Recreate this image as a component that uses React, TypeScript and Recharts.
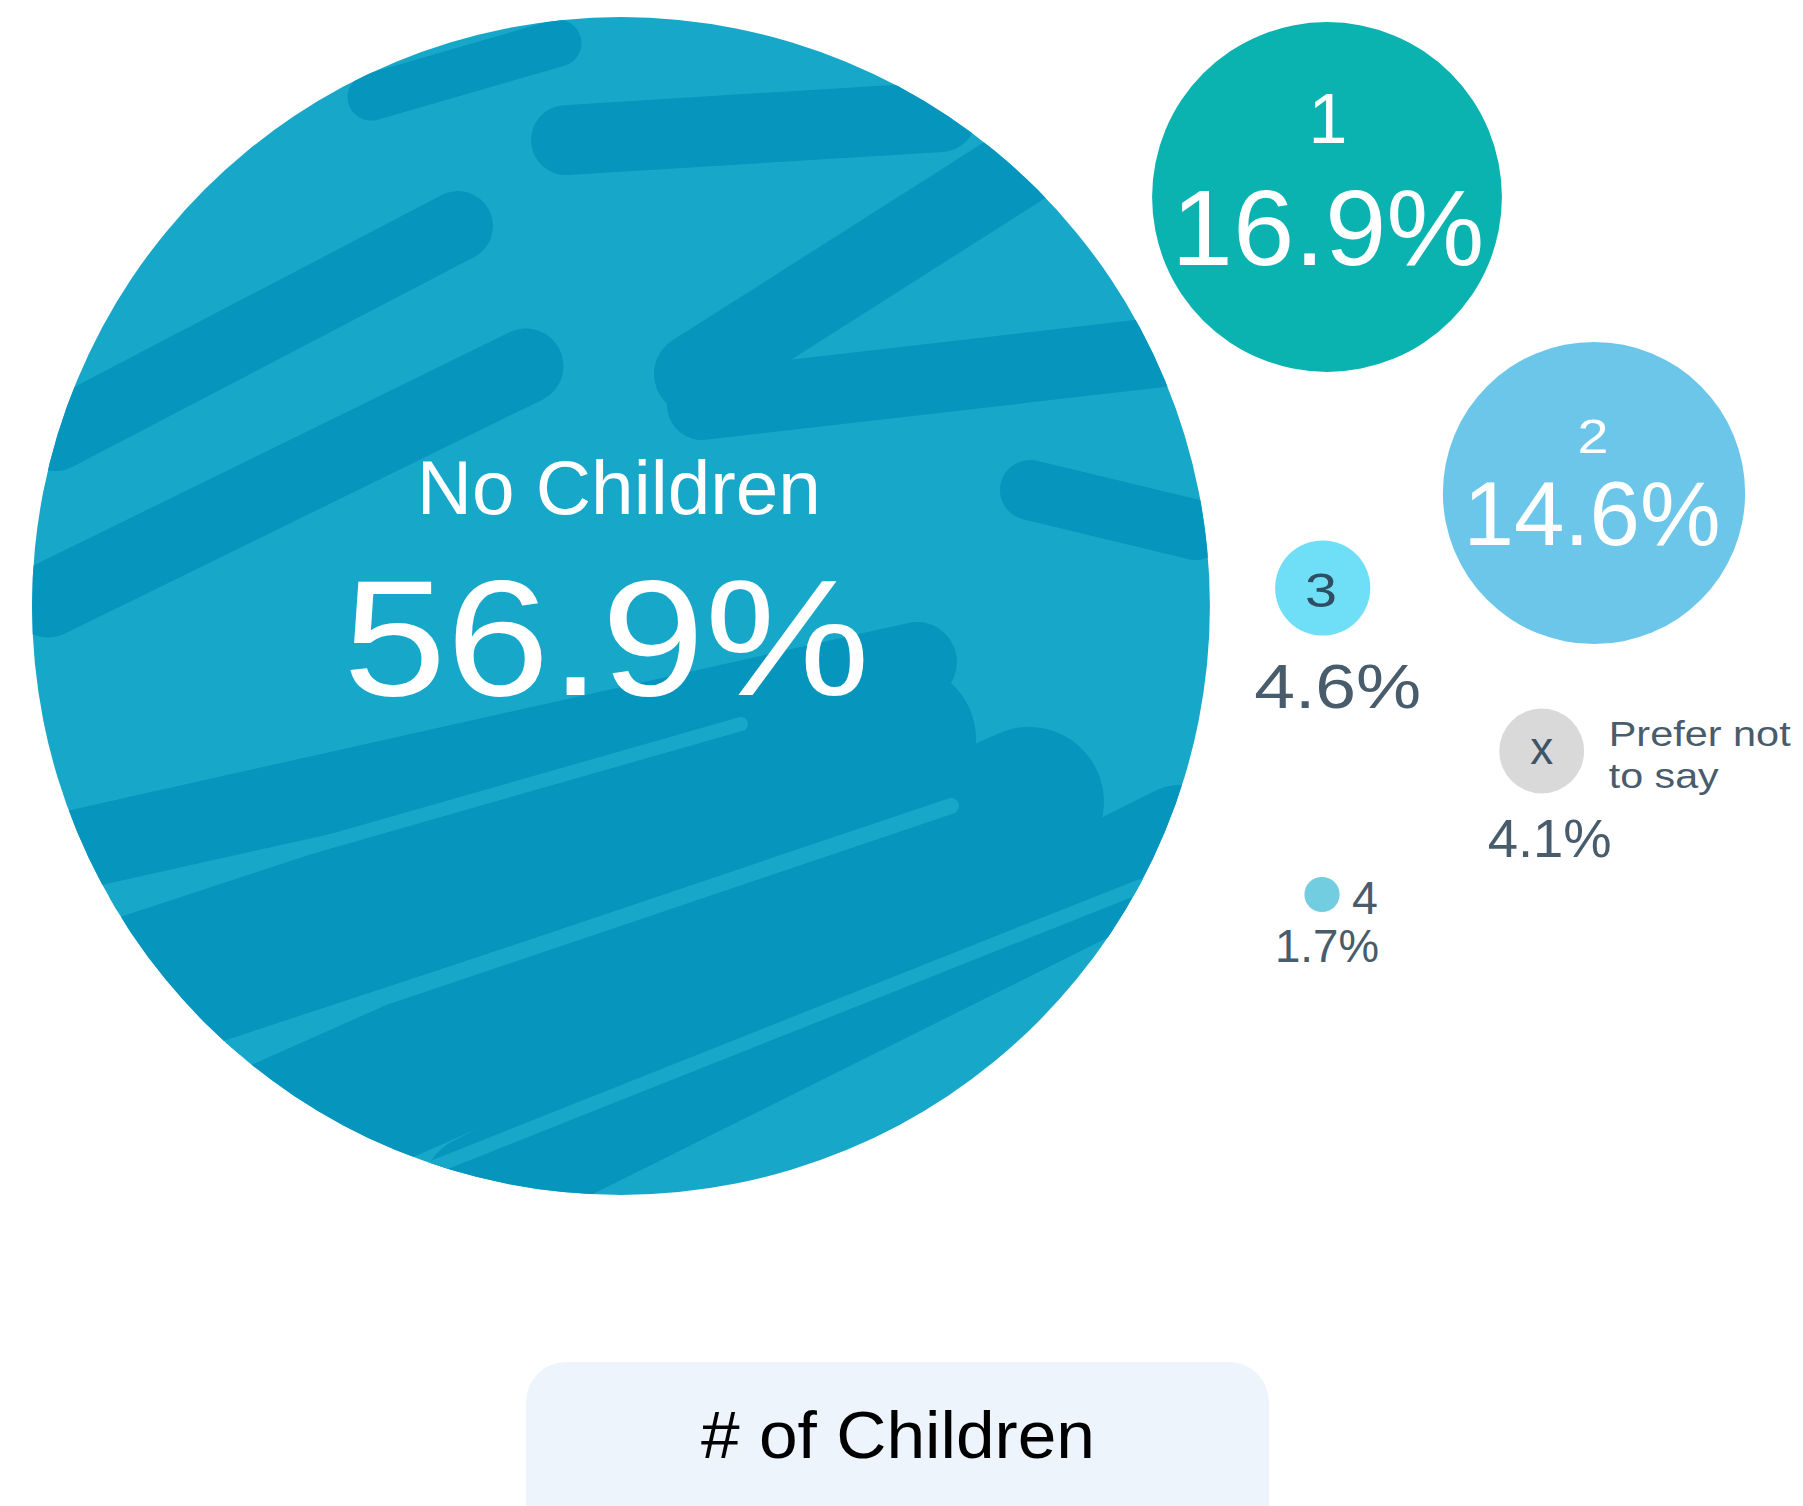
import React from 'react';
import { ScatterChart, Scatter, XAxis, YAxis, ZAxis } from 'recharts';

// ---- data ----
const categories = ['No Children', '1', '2', '3', 'Prefer not to say', '4'];
const values = [56.9, 16.9, 14.6, 4.6, 4.1, 1.7];
const badgeLabels = ['No Children', '1', '2', '3', 'x', '4'];
const axisTitle = '# of Children';

// ---- layout (bubble centres in chart pixel space) ----
const bubbleX = [621, 1327, 1594, 1322.7, 1541.7, 1322];
const bubbleY = [606, 197, 493, 588, 751, 894.5];
const bubbleFill = ['#17A8C9', '#0BB3B0', '#6BC6EA', '#6FDFF7', '#D9D9D9', '#72CDE0'];
const strokeDark = '#0595BD';
const strokeLight = '#17A8C9';

const W = 1803;
const H = 1506;
const FONT = '"Liberation Sans", Arial, Helvetica, sans-serif';
const SLATE = '#485C6C';

const data = categories.map((name, i) => ({ name, value: values[i], x: bubbleX[i], y: bubbleY[i] }));

// brush texture strokes for the large bubble, relative to centre at radius 589
// [x1, y1, x2, y2, width, light?]
const brush: [number, number, number, number, number, number][] = [
  [-250, -509, -63, -563, 47, 0],
  [-55, -466, 320, -489, 70, 0],
  [-163, -380, -565, -170, 70, 0],
  [416, -450, 73, -232, 80, 0],
  [81, -201, 559, -256, 70, 0],
  [-95, -240, -573, -6, 75, 0],
  [409, -116, 575, -76, 60, 0],
  [296, 56, -573, 250, 80, 0],
  [280, 133, -501, 390, 150, 0],
  [408, 196, -381, 546, 150, 0],
  [559, 234, -143, 584, 110, 0],
  [-580, 318, 120, 118, 14, 1],
  [-470, 470, 330, 200, 16, 1],
  [-260, 590, 520, 280, 14, 1],
];

type TSpec = { t: string; dx: number; dy: number; fs: number; fill: string; anchor: 'start' | 'middle'; len?: number };

const pct = (v: number) => `${v.toFixed(1)}%`;

function textSpecs(i: number): TSpec[] {
  const v = pct(values[i]);
  switch (i) {
    case 0:
      return [
        { t: badgeLabels[0], dx: -2.2, dy: -92, fs: 76, fill: '#FFFFFF', anchor: 'middle', len: 404 },
        { t: v, dx: -14.5, dy: 89, fs: 165, fill: '#FFFFFF', anchor: 'middle', len: 527 },
      ];
    case 1:
      return [
        { t: badgeLabels[1], dx: 1, dy: -53.7, fs: 70, fill: '#FFFFFF', anchor: 'middle' },
        { t: v, dx: 1, dy: 68, fs: 107, fill: '#FFFFFF', anchor: 'middle', len: 313 },
      ];
    case 2:
      return [
        { t: badgeLabels[2], dx: -1, dy: -40.3, fs: 48, fill: '#FFFFFF', anchor: 'middle', len: 31 },
        { t: v, dx: -2, dy: 52, fs: 91, fill: '#FFFFFF', anchor: 'middle', len: 257 },
      ];
    case 3:
      return [
        { t: badgeLabels[3], dx: -1.7, dy: 19.3, fs: 48, fill: '#2E4F63', anchor: 'middle', len: 32 },
        { t: v, dx: 15, dy: 120.3, fs: 63, fill: SLATE, anchor: 'middle', len: 167 },
      ];
    case 4: {
      const words = categories[4].split(' ');
      return [
        { t: badgeLabels[4], dx: 0, dy: 13, fs: 46, fill: '#3E5568', anchor: 'middle' },
        { t: words.slice(0, 2).join(' '), dx: 67, dy: -5.3, fs: 35, fill: SLATE, anchor: 'start', len: 182 },
        { t: words.slice(2).join(' '), dx: 67, dy: 37.3, fs: 35, fill: SLATE, anchor: 'start', len: 110 },
        { t: v, dx: 8, dy: 106.3, fs: 54.5, fill: SLATE, anchor: 'middle', len: 124 },
      ];
    }
    default:
      return [
        { t: badgeLabels[5], dx: 30, dy: 19.5, fs: 46.5, fill: SLATE, anchor: 'start' },
        { t: v, dx: 5, dy: 67, fs: 46.5, fill: SLATE, anchor: 'middle', len: 104 },
      ];
  }
}

function Bubble(props: any) {
  const { cx, cy, size, payload } = props;
  const i = categories.indexOf(payload.name);
  const r = typeof size === 'number' && isFinite(size) ? size : payload.value * 10.35;
  const k = r / 589;
  return (
    <g>
      {i === 0 ? (
        <>
          <defs>
            <clipPath id="big-bubble-clip">
              <circle cx={cx} cy={cy} r={r} />
            </clipPath>
          </defs>
          <circle cx={cx} cy={cy} r={r} fill={bubbleFill[0]} />
          <g clipPath="url(#big-bubble-clip)">
            {brush.map((b, j) => (
              <line
                key={j}
                x1={cx + b[0] * k}
                y1={cy + b[1] * k}
                x2={cx + b[2] * k}
                y2={cy + b[3] * k}
                stroke={b[5] ? strokeLight : strokeDark}
                strokeWidth={b[4] * k}
                strokeLinecap="round"
              />
            ))}
          </g>
        </>
      ) : (
        <circle cx={cx} cy={cy} r={r} fill={bubbleFill[i]} />
      )}
      {textSpecs(i).map((s, j) => (
        <text
          key={`t${j}`}
          x={cx + s.dx}
          y={cy + s.dy}
          fontSize={s.fs}
          fill={s.fill}
          textAnchor={s.anchor}
          fontFamily={FONT}
          {...(s.len ? { textLength: s.len, lengthAdjust: 'spacingAndGlyphs' } : {})}
        >
          {s.t}
        </text>
      ))}
    </g>
  );
}

export default function App() {
  return (
    <div style={{ position: 'absolute', left: 0, top: 0, width: W, height: H, background: '#FFFFFF', overflow: 'hidden' }}>
      <ScatterChart width={W} height={H} margin={{ top: 0, right: 0, bottom: 0, left: 0 }}>
        <XAxis type="number" dataKey="x" domain={[0, W]} hide />
        <YAxis type="number" dataKey="y" domain={[0, H]} reversed hide />
        <ZAxis type="number" dataKey="value" domain={[0, 60]} range={[0, 621]} />
        <Scatter data={data} shape={<Bubble />} isAnimationActive={false} />
      </ScatterChart>
      <div
        style={{
          position: 'absolute',
          left: 526,
          top: 1362,
          width: 743,
          height: H - 1362,
          background: '#EDF4FC',
          borderRadius: '40px 40px 0 0',
        }}
      />
      <svg style={{ position: 'absolute', left: 0, top: 0 }} width={W} height={H} pointerEvents="none">
        <text x={898} y={1458} fontSize={67.5} fontFamily={FONT} fill="#000000" textAnchor="middle" textLength={394} lengthAdjust="spacingAndGlyphs">
          {axisTitle}
        </text>
      </svg>
    </div>
  );
}
